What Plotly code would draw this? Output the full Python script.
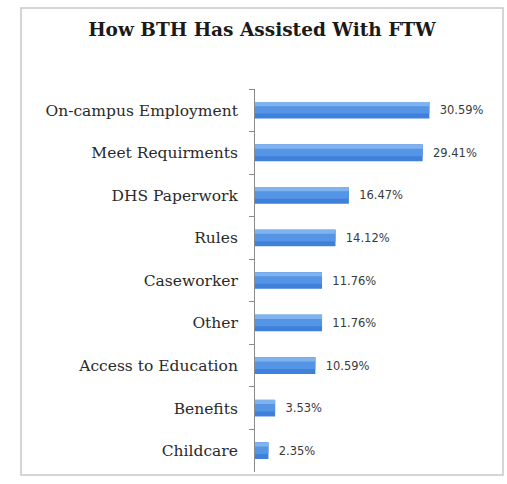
import plotly.graph_objects as go

# Survey results: ways BTH has helped with FTW (percent of responses)
categories = [
    "On-campus Employment",
    "Meet Requirments",
    "DHS Paperwork",
    "Rules",
    "Caseworker",
    "Other",
    "Access to Education",
    "Benefits",
    "Childcare",
]
percentages = [30.59, 29.41, 16.47, 14.12, 11.76, 11.76, 10.59, 3.53, 2.35]

W, H = 507, 484
L, R, T, B = 255, 24, 89, 12
plot_w = W - L - R
plot_h = H - T - B


def px_to_paper_x(px):
    return (px - L) / plot_w


def px_to_paper_y(py):
    return (H - B - py) / plot_h


bar_w = 0.39
serif = "DejaVu Serif, Liberation Serif, serif"

fig = go.Figure()

# main bar body, with its value written just past the end
fig.add_trace(go.Bar(
    x=percentages, y=categories, orientation="h",
    width=bar_w,
    marker=dict(color="#3E80DA", line=dict(width=0)),
    texttemplate="  %{x:.2f}%", textposition="outside",
    textfont=dict(family="DejaVu Sans, sans-serif", size=11.5, color="#3a3a3a"),
    cliponaxis=False, hoverinfo="skip",
))
# softer, lighter upper part of each bar
fig.add_trace(go.Bar(
    x=percentages, y=categories, orientation="h",
    width=bar_w * 0.7, offset=-bar_w * 0.5,
    marker=dict(color="#5595E6", line=dict(width=0)),
    hoverinfo="skip",
))
# pale highlight along the top edge
fig.add_trace(go.Bar(
    x=percentages, y=categories, orientation="h",
    width=bar_w * 0.25, offset=-bar_w * 0.5,
    marker=dict(color="#80B2EE", line=dict(width=0)),
    hoverinfo="skip",
))

fig.update_layout(
    width=W, height=H,
    margin=dict(l=L, r=R, t=T, b=B, pad=0),
    barmode="overlay",
    showlegend=False,
    paper_bgcolor="white",
    plot_bgcolor="white",
    title=dict(
        text="<b>How BTH Has Assisted With FTW</b>",
        font=dict(family=serif, size=18.5, color="#1a1a1a"),
        xref="container", x=262 / W, xanchor="center",
        yref="container", y=1 - 30 / H, yanchor="middle",
    ),
    xaxis=dict(visible=False, range=[0, 40]),
    yaxis=dict(
        autorange="reversed",
        showline=True, linecolor="#8a8a8a", linewidth=1,
        ticks="outside", tickson="boundaries", ticklen=5, tickcolor="#8a8a8a",
        ticklabelstandoff=13,
        tickfont=dict(family=serif, size=15.5, color="#2a2a2a"),
        showgrid=False, zeroline=False,
    ),
    shapes=[
        dict(
            type="rect", xref="paper", yref="paper",
            x0=px_to_paper_x(21), x1=px_to_paper_x(503),
            y0=px_to_paper_y(475), y1=px_to_paper_y(8),
            line=dict(color="#c8c8c8", width=1.5),
            fillcolor="rgba(0,0,0,0)", layer="below",
        )
    ],
)

fig.write_html("out.html")
